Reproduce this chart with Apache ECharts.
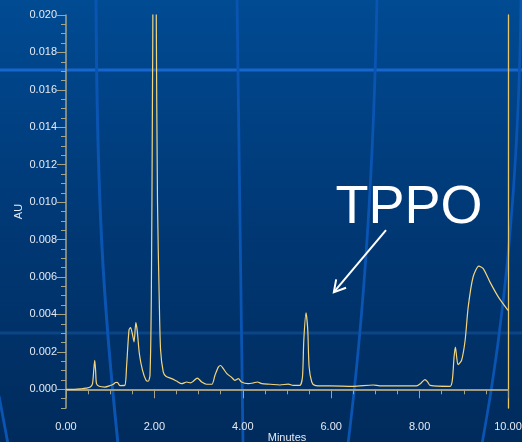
<!DOCTYPE html>
<html>
<head>
<meta charset="utf-8">
<script src="https://cdn.jsdelivr.net/npm/echarts@6/dist/echarts.min.js"></script>
<style>
  html, body { margin: 0; padding: 0; background: #003467; }
  #chart { width: 522px; height: 442px; background: linear-gradient(180deg, #004b93 0%, #003a78 45%, #002b5c 100%); }
</style>
</head>
<body>
<div id="chart"></div>
<script>
// Chromatogram trace: retention time (minutes) and absorbance (AU)
const retentionMinutes = [
  0.00, 0.20, 0.35, 0.45, 0.55, 0.60, 0.63, 0.65, 0.67, 0.69,
  0.75, 0.88, 1.00, 1.07, 1.12, 1.16, 1.22, 1.33, 1.37, 1.425,
  1.46, 1.50, 1.54, 1.58, 1.61, 1.66, 1.73, 1.81, 1.86, 1.90,
  1.93, 1.955, 1.965, 2.00, 2.04, 2.07, 2.11, 2.14, 2.20, 2.26,
  2.39, 2.50, 2.62, 2.73, 2.82, 2.88, 2.97, 3.07, 3.18, 3.30,
  3.37, 3.45, 3.50, 3.56, 3.64, 3.75, 3.82, 3.90, 3.97, 4.12,
  4.24, 4.33, 4.43, 4.62, 4.84, 5.03, 5.14, 5.29, 5.35, 5.38,
  5.43, 5.47, 5.50, 5.56, 5.63, 5.82, 5.97, 6.50, 6.95, 7.10,
  7.56, 7.93, 8.02, 8.12, 8.18, 8.24, 8.69, 8.74, 8.78, 8.81,
  8.84, 8.87, 8.95, 9.03, 9.10, 9.21, 9.34, 9.44, 9.59, 9.78,
  10.00
];
const absorbanceAU = [
  0.00000, 0.00000, 0.00003, 0.00006, 0.00012, 0.00030, 0.00110, 0.00155, 0.00100, 0.00030,
  0.00016, 0.00012, 0.00020, 0.00027, 0.00036, 0.00037, 0.00020, 0.00021, 0.00120, 0.00316,
  0.00330, 0.00298, 0.00253, 0.00357, 0.00316, 0.00190, 0.00102, 0.00048, 0.00043, 0.00075,
  0.00480, 0.01500, 0.02000, 0.04500, 0.02100, 0.01000, 0.00476, 0.00210, 0.00093, 0.00070,
  0.00057, 0.00044, 0.00030, 0.00039, 0.00034, 0.00043, 0.00060, 0.00039, 0.00027, 0.00027,
  0.00075, 0.00120, 0.00127, 0.00110, 0.00084, 0.00063, 0.00048, 0.00057, 0.00039, 0.00030,
  0.00034, 0.00039, 0.00030, 0.00027, 0.00023, 0.00028, 0.00021, 0.00021, 0.00066, 0.00262,
  0.00408, 0.00316, 0.00120, 0.00039, 0.00021, 0.00018, 0.00018, 0.00016, 0.00023, 0.00018,
  0.00018, 0.00018, 0.00030, 0.00052, 0.00040, 0.00021, 0.00016, 0.00048, 0.00173, 0.00226,
  0.00170, 0.00132, 0.00155, 0.00262, 0.00440, 0.00600, 0.00658, 0.00645, 0.00574, 0.00494,
  0.00422
];

// Axis ticks
const xLabelValues = [0, 2, 4, 6, 8, 10];
const yLabelValues = [0, 0.002, 0.004, 0.006, 0.008, 0.010, 0.012, 0.014, 0.016, 0.018, 0.020];
const yMinorValues = [];
for (let k = -2; k <= 40; k++) yMinorValues.push(k * 0.0005);

// Annotation: label and arrow anchored in data space
const annotationText = 'TPPO';
const annotationTextAt = [7.76, 0.00984];
const arrowFrom = [7.24, 0.0085];
const arrowTo = [6.06, 0.00519];

const FONT = '"Liberation Sans", Arial, Helvetica, sans-serif';
const AXIS_GRAY = '#a9a385';
const TRACE = '#f3d57e';
const LABEL = '#e4eaf3';

const chart = echarts.init(document.getElementById('chart'), null, { renderer: 'canvas' });

const trace = retentionMinutes.map((t, i) => [t, absorbanceAU[i]]);

// Decorative background strokes
const DECO = '#0a55b2';
const decorations = [
  { type: 'line', z: -5, silent: true, shape: { x1: 0, y1: 70, x2: 522, y2: 70 },
    style: { stroke: '#1666cf', lineWidth: 3 } },
  { type: 'line', z: -5, silent: true, shape: { x1: 0, y1: 333, x2: 522, y2: 333 },
    style: { stroke: '#0a4585', lineWidth: 3 } },
  { type: 'bezierCurve', z: -5, silent: true,
    shape: { x1: 96, y1: -2, cpx1: 97, cpy1: 200, cpx2: 103, cpy2: 300, x2: 118, y2: 444 },
    style: { stroke: DECO, lineWidth: 3, fill: null } },
  { type: 'line', z: -5, silent: true, shape: { x1: 237, y1: -2, x2: 243, y2: 444 },
    style: { stroke: DECO, lineWidth: 2.8 } },
  { type: 'bezierCurve', z: -5, silent: true,
    shape: { x1: 377, y1: -2, cpx1: 374, cpy1: 150, cpx2: 366, cpy2: 300, x2: 348, y2: 444 },
    style: { stroke: DECO, lineWidth: 2.8, fill: null } },
  { type: 'bezierCurve', z: -5, silent: true,
    shape: { x1: 521, y1: -2, cpx1: 519, cpy1: 180, cpx2: 505, cpy2: 320, x2: 482, y2: 444 },
    style: { stroke: DECO, lineWidth: 2.8, fill: null } },
  { type: 'line', z: -5, silent: true, shape: { x1: -1, y1: 396, x2: 8, y2: 444 },
    style: { stroke: DECO, lineWidth: 2.8 } }
];

const option = {
  animation: false,
  backgroundColor: 'transparent',
  textStyle: { fontFamily: FONT },
  grid: { left: 66, top: 15, right: 14, bottom: 34, containLabel: false, outerBoundsMode: 'none' },
  xAxis: [
    {
      type: 'value', min: 0, max: 10, interval: 2, position: 'bottom',
      name: 'Minutes', nameLocation: 'middle', nameGap: 24, nameMoveOverlap: false,
      nameTextStyle: { color: LABEL, fontSize: 11, fontFamily: FONT },
      axisLine: { show: true, lineStyle: { color: AXIS_GRAY, width: 1.5 } },
      axisTick: { show: true, length: 9, lineStyle: { color: AXIS_GRAY, width: 1 } },
      minorTick: { show: true, splitNumber: 4, length: 5, lineStyle: { color: AXIS_GRAY, width: 1 } },
      axisLabel: { color: LABEL, fontSize: 11, fontFamily: FONT, margin: 13,
        customValues: xLabelValues, formatter: v => v.toFixed(2) },
      splitLine: { show: false }, minorSplitLine: { show: false }
    },
    {
      type: 'value', min: 0, max: 10, position: 'top',
      axisLine: { show: true, lineStyle: { color: AXIS_GRAY, width: 1.5 } },
      axisTick: { show: false }, axisLabel: { show: false }, splitLine: { show: false }
    }
  ],
  yAxis: [
    {
      type: 'value', min: -0.001, max: 0.020, position: 'left',
      name: 'AU', nameLocation: 'middle', nameGap: 42, nameRotate: 90, nameMoveOverlap: false,
      nameTextStyle: { color: LABEL, fontSize: 11, fontFamily: FONT },
      axisLine: { show: true, lineStyle: { color: AXIS_GRAY, width: 1.5 } },
      axisTick: { show: true, length: 9, customValues: yLabelValues,
        lineStyle: { color: AXIS_GRAY, width: 1 } },
      axisLabel: { color: LABEL, fontSize: 11, fontFamily: FONT, margin: 9,
        customValues: yLabelValues, formatter: v => v.toFixed(3) },
      splitLine: { show: false }
    },
    {
      type: 'value', min: -0.001, max: 0.020, position: 'left',
      axisLine: { show: false },
      axisTick: { show: true, length: 5, customValues: yMinorValues,
        lineStyle: { color: AXIS_GRAY, width: 1 } },
      axisLabel: { show: false }, splitLine: { show: false }
    },
    {
      type: 'value', min: -0.001, max: 0.020, position: 'right',
      axisLine: { show: true, lineStyle: { color: '#e9c766', width: 1.3 } },
      axisTick: { show: false }, axisLabel: { show: false }, splitLine: { show: false }
    }
  ],
  series: [
    {
      type: 'line', xAxisIndex: 0, yAxisIndex: 0,
      data: trace, showSymbol: false, smooth: 0.25, clip: true,
      lineStyle: { color: TRACE, width: 1.2 },
      z: 3
    }
  ],
  graphic: { elements: decorations }
};

chart.setOption(option);

const tp = chart.convertToPixel({ xAxisIndex: 0, yAxisIndex: 0 }, annotationTextAt);
const a0 = chart.convertToPixel({ xAxisIndex: 0, yAxisIndex: 0 }, arrowFrom);
const a1 = chart.convertToPixel({ xAxisIndex: 0, yAxisIndex: 0 }, arrowTo);

// Open arrow head at the tip
const ang = Math.atan2(a0[1] - a1[1], a0[0] - a1[0]);
const headLen = 13, spread = 0.52;
const h1 = [a1[0] + headLen * Math.cos(ang - spread), a1[1] + headLen * Math.sin(ang - spread)];
const h2 = [a1[0] + headLen * Math.cos(ang + spread), a1[1] + headLen * Math.sin(ang + spread)];

const annotations = [
  { type: 'text', z: 10, x: tp[0], y: tp[1] + 3, silent: true,
    style: { text: annotationText, fill: '#ffffff', font: '54px ' + FONT,
      align: 'center', verticalAlign: 'middle' } },
  { type: 'line', z: 10, silent: true,
    shape: { x1: a0[0], y1: a0[1], x2: a1[0], y2: a1[1] },
    style: { stroke: '#ffffff', lineWidth: 2 } },
  { type: 'polyline', z: 10, silent: true,
    shape: { points: [h1, a1, h2] },
    style: { stroke: '#ffffff', lineWidth: 2, fill: null } }
];

chart.setOption({ graphic: { elements: decorations.concat(annotations) } });
</script>
</body>
</html>
